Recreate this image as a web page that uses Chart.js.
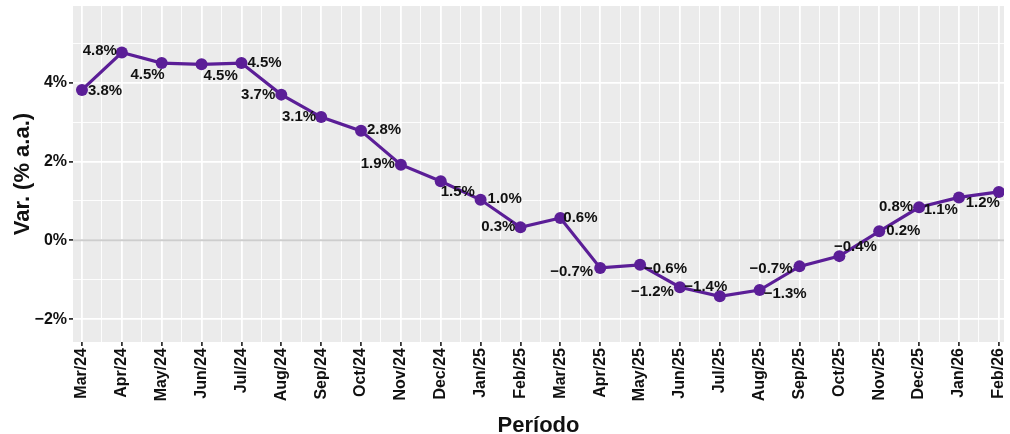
<!DOCTYPE html>
<html>
<head>
<meta charset="utf-8">
<script src="https://cdn.jsdelivr.net/npm/chart.js@4.4.1/dist/chart.umd.min.js"></script>
<style>
  html, body { margin: 0; padding: 0; background: #fff; }
  #wrap { width: 1010px; height: 434px; }
</style>
</head>
<body>
<div id="wrap"><canvas id="grafico" width="1010" height="434"></canvas></div>
<script>
const periods = ["Mar/24", "Apr/24", "May/24", "Jun/24", "Jul/24", "Aug/24", "Sep/24", "Oct/24",
  "Nov/24", "Dec/24", "Jan/25", "Feb/25", "Mar/25", "Apr/25", "May/25", "Jun/25", "Jul/25",
  "Aug/25", "Sep/25", "Oct/25", "Nov/25", "Dec/25", "Jan/26", "Feb/26"];
const varAA = [3.82, 4.77, 4.50, 4.47, 4.50, 3.70, 3.13, 2.78, 1.92, 1.50, 1.03, 0.33, 0.57,
  -0.70, -0.62, -1.19, -1.42, -1.26, -0.66, -0.40, 0.23, 0.84, 1.09, 1.23];
const yTicks = [-2, 0, 2, 4];

// where each value label sits next to its point: dx, dy, align
const labelPlace = [
  [6, 1, "left"], [-5, -2, "right"], [3, 12, "right"], [2, 12, "left"], [6, 0, "left"],
  [-6, 0, "right"], [-5, 0, "right"], [6, -1, "left"], [-6, -1, "right"], [0, 11, "left"],
  [7, -1, "left"], [-5, -1, "right"], [3, 0, "left"], [-7, 4, "right"], [4, 4, "left"],
  [-6, 5, "right"], [-14, -9, "center"], [4, 4, "left"], [-7, 2, "right"], [16, -9, "center"],
  [7, 0, "left"], [-6, 0, "right"], [-1, 12, "right"], [1, 11, "right"]
];

const purple = "#5B1E97";
const fontFam = "'Liberation Sans', Arial, Helvetica, sans-serif";

function pct(v) {
  const s = Math.abs(v).toFixed(1) + "%";
  return v < 0 ? "\u2212" + s : s;
}

const panelBg = {
  id: "panelBg",
  beforeDraw(chart) {
    const { ctx, chartArea: a } = chart;
    ctx.save();
    ctx.fillStyle = "#EBEBEB";
    ctx.fillRect(a.left, a.top, a.right - a.left, a.bottom - a.top);
    ctx.restore();
  }
};

const zeroLine = {
  id: "zeroLine",
  beforeDatasetsDraw(chart) {
    const { ctx, chartArea: a, scales } = chart;
    const y = scales.y.getPixelForValue(0);
    ctx.save();
    ctx.strokeStyle = "#CDCDCD";
    ctx.lineWidth = 2;
    ctx.beginPath();
    ctx.moveTo(a.left, y);
    ctx.lineTo(a.right, y);
    ctx.stroke();
    ctx.restore();
  }
};

const valueLabels = {
  id: "valueLabels",
  afterDatasetsDraw(chart) {
    const { ctx } = chart;
    const meta = chart.getDatasetMeta(0);
    ctx.save();
    ctx.font = "bold 15px " + fontFam;
    ctx.fillStyle = "#111111";
    ctx.textBaseline = "middle";
    meta.data.forEach((pt, i) => {
      const p = labelPlace[i];
      ctx.textAlign = p[2];
      ctx.fillText(pct(varAA[i]), pt.x + p[0], pt.y + p[1]);
    });
    ctx.restore();
  }
};

const isMajor = (ctx) => ctx.tick && Number.isInteger(ctx.tick.value);

new Chart(document.getElementById("grafico"), {
  type: "line",
  data: {
    datasets: [{
      data: varAA.map((v, i) => ({ x: i, y: v })),
      borderColor: purple,
      backgroundColor: purple,
      borderWidth: 3.2,
      pointRadius: 6,
      pointBorderWidth: 0,
      pointBackgroundColor: purple,
      tension: 0
    }]
  },
  options: {
    responsive: false,
    animation: false,
    devicePixelRatio: 1,
    layout: { padding: { left: 0, top: 5, right: 2, bottom: 0 } },
    plugins: { legend: { display: false }, tooltip: { enabled: false } },
    scales: {
      x: {
        type: "linear",
        min: -0.225,
        max: 23.13,
        afterFit(scale) {
          scale.height = 92;
          scale.paddingLeft = 0;
          scale.paddingRight = 0;
        },
        border: { display: false },
        grid: {
          color: "#FFFFFF",
          lineWidth: (c) => isMajor(c) ? 1.8 : 0.9,
          tickColor: (c) => isMajor(c) ? "#333333" : "rgba(0,0,0,0)",
          tickLength: 4
        },
        ticks: {
          stepSize: 0.5,
          includeBounds: false,
          autoSkip: false,
          maxTicksLimit: 100,
          minRotation: 90,
          maxRotation: 90,
          padding: 2,
          color: "#111111",
          font: { family: fontFam, size: 16, weight: "bold" },
          callback: (v) => Number.isInteger(v) ? periods[v] : ""
        },
        title: {
          display: true,
          text: "Período",
          color: "#111111",
          font: { family: fontFam, size: 22, weight: "bold" },
          padding: { top: 0, bottom: -5 }
        }
      },
      y: {
        min: -2.58,
        max: 5.95,
        afterFit(scale) {
          scale.width = 73;
          scale.paddingTop = 0;
          scale.paddingBottom = 0;
        },
        border: { display: false },
        grid: {
          color: "#FFFFFF",
          lineWidth: (c) => isMajor(c) && yTicks.includes(c.tick.value) ? 1.8 : 0.9,
          tickColor: (c) => isMajor(c) && yTicks.includes(c.tick.value) ? "#333333" : "rgba(0,0,0,0)",
          tickLength: 4
        },
        ticks: {
          stepSize: 1,
          includeBounds: false,
          maxTicksLimit: 100,
          padding: 2,
          color: "#111111",
          font: { family: fontFam, size: 16, weight: "bold" },
          callback: (v) => yTicks.includes(v) ? (v < 0 ? "\u2212" + Math.abs(v) : v) + "%" : ""
        },
        title: {
          display: true,
          text: "Var. (% a.a.)",
          color: "#111111",
          font: { family: fontFam, size: 22, weight: "bold" },
          padding: { top: 10, bottom: 0 }
        }
      }
    }
  },
  plugins: [panelBg, zeroLine, valueLabels]
});
</script>
</body>
</html>
